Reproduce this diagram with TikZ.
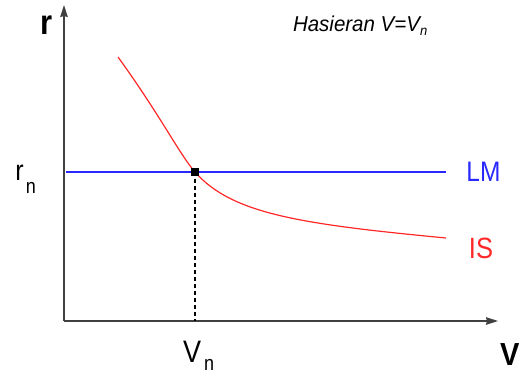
\documentclass[tikz,border=0pt]{standalone}
\usepackage{fontspec}
\setmainfont{Liberation Sans}
\usetikzlibrary{arrows.meta}
\newcommand{\tallr}[3]{\scalebox{1}[#2]{\fontsize{#1}{#1}\selectfont #3}}
\definecolor{lmblue}{RGB}{40,40,255}
\definecolor{isred}{RGB}{255,40,40}
\begin{document}
\begin{tikzpicture}[x=1pt,y=-1pt,
  axis/.style={draw=black!75,line width=1.3pt,-{Stealth[length=12pt,width=7.5pt,inset=1pt]}},
  lbl/.style={inner sep=0pt,outer sep=0pt},
  lmcol/.style={draw=lmblue,line width=1.1pt},
  iscol/.style={draw=isred,line width=1.2pt}]
\useasboundingbox (0,0) rectangle (522,376);
\coordinate (O) at (64,321);
\coordinate (ytip) at (64,5);
\coordinate (xtip) at (498,321);
\draw[axis] (O) -- (ytip);
\draw[axis] (O) -- (xtip);
\node[lbl,anchor=base west] (r) at (40,34) {\tallr{31}{1.12}{\bfseries r}};
\node[lbl,anchor=base west] (V) at (500,365) {\tallr{29}{1.1}{\bfseries V}};
\node[lbl,anchor=base west] (title) at (293,31) {\tallr{20.5}{1.05}{\itshape Hasieran V=V\raisebox{-4pt}{\fontsize{13}{13}\selectfont n}}};
% LM
\coordinate (lmL) at (66,172);
\coordinate (lmR) at (446,172);
\draw[lmcol] (lmL) -- (lmR);
\node[lbl,text=lmblue] (LM) at (483.5,172) {\tallr{24.5}{1.15}{LM}};
% IS
\coordinate (isA) at (118,57);
\coordinate (E) at (195,172);
\coordinate (isB) at (446,238);
\draw[iscol] (isA) .. controls (160,115) and (180,155) .. (E) .. controls (232,214) and (300,224) .. (isB);
\node[lbl,text=isred] (IS) at (481,248.5) {\tallr{25.5}{1.15}{IS}};
% equilibrium
\coordinate (Ex) at (195,321);
\draw[line width=1.1pt,dash pattern=on 4pt off 3pt] (E) -- (Ex);
\node[fill=black,minimum size=8pt,inner sep=0pt] (dot) at (E) {};
\node[lbl,anchor=base west] (rn) at (15.5,180) {\tallr{25}{1.15}{r}\kern2pt\raisebox{-13pt}{\tallr{18}{1.15}{n}}};
\node[lbl,anchor=base west] (Vn) at (183,362) {\tallr{27}{1.15}{V}\kern3pt\raisebox{-8pt}{\tallr{18}{1.15}{n}}};
\end{tikzpicture}
\end{document}
